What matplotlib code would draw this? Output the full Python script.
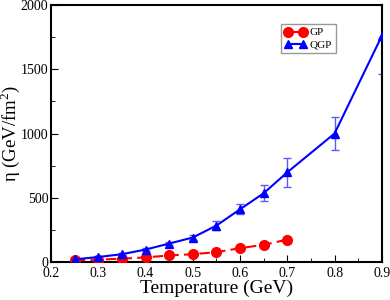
import matplotlib
matplotlib.use("Agg")
import matplotlib.pyplot as plt
from matplotlib.ticker import MultipleLocator

plt.rcParams['font.family'] = ['Liberation Serif', 'DejaVu Serif']
plt.rcParams['mathtext.fontset'] = 'custom'
plt.rcParams['mathtext.rm'] = 'Liberation Serif'

T_gp = [0.25, 0.30, 0.35, 0.40, 0.45, 0.50, 0.55, 0.60, 0.65, 0.70]
eta_gp = [12, 18, 25, 35, 50, 60, 76, 107, 133, 174]

T_qgp = [0.25, 0.30, 0.35, 0.40, 0.45, 0.50, 0.55, 0.60, 0.65, 0.70, 0.80, 0.90]
eta_qgp = [20, 38, 60, 96, 143, 190, 283, 410, 535, 698, 1000, 1760]
err_qgp = [5, 6, 8, 10, 12, 20, 37, 38, 63, 113, 131, 300]

fig = plt.figure(figsize=(3.9, 3.0), dpi=100)
ax = fig.add_axes([0.131, 0.127, 0.848, 0.856])

ax.errorbar(T_qgp, eta_qgp, yerr=err_qgp, fmt='none', ecolor=(0.35, 0.35, 1.0),
            elinewidth=1, capsize=3, capthick=1, zorder=2)
ax.plot(T_gp, eta_gp, color='red', linestyle=(0, (5, 2.5)), linewidth=1.5,
        marker='o', markersize=7, label='GP', zorder=3)
ax.plot(T_qgp, eta_qgp, color='blue', linestyle='-', linewidth=1.5,
        marker='^', markersize=6, label='QGP', zorder=4)

ax.set_xlim(0.2, 0.9)
ax.set_ylim(0, 2000)
ax.xaxis.set_major_locator(MultipleLocator(0.1))
ax.xaxis.set_minor_locator(MultipleLocator(0.05))
ax.yaxis.set_major_locator(MultipleLocator(500))
ax.yaxis.set_minor_locator(MultipleLocator(250))
ax.tick_params(which='both', direction='in', labelsize=10, top=False, right=False)
ax.tick_params(which='major', length=5)
ax.tick_params(which='minor', length=3)
ax.tick_params(axis='y', pad=2)
for s in ax.spines.values():
    s.set_linewidth(1.5)

ax.set_xlabel('Temperature (GeV)', fontsize=14, labelpad=0)
ax.set_ylabel(r'η (GeV/fm$^2$)', fontsize=13.5)
ax.yaxis.set_label_coords(-0.087, 0.5)

leg = ax.legend(loc='upper left', bbox_to_anchor=(0.695, 0.925), fontsize=8,
                frameon=True, fancybox=False, edgecolor='gray', borderpad=0.3,
                numpoints=2, handlelength=2.0, handletextpad=0.3, labelspacing=0.2,
                borderaxespad=0)
leg.get_frame().set_linewidth(1)

fig.savefig('out.png', dpi=100)
